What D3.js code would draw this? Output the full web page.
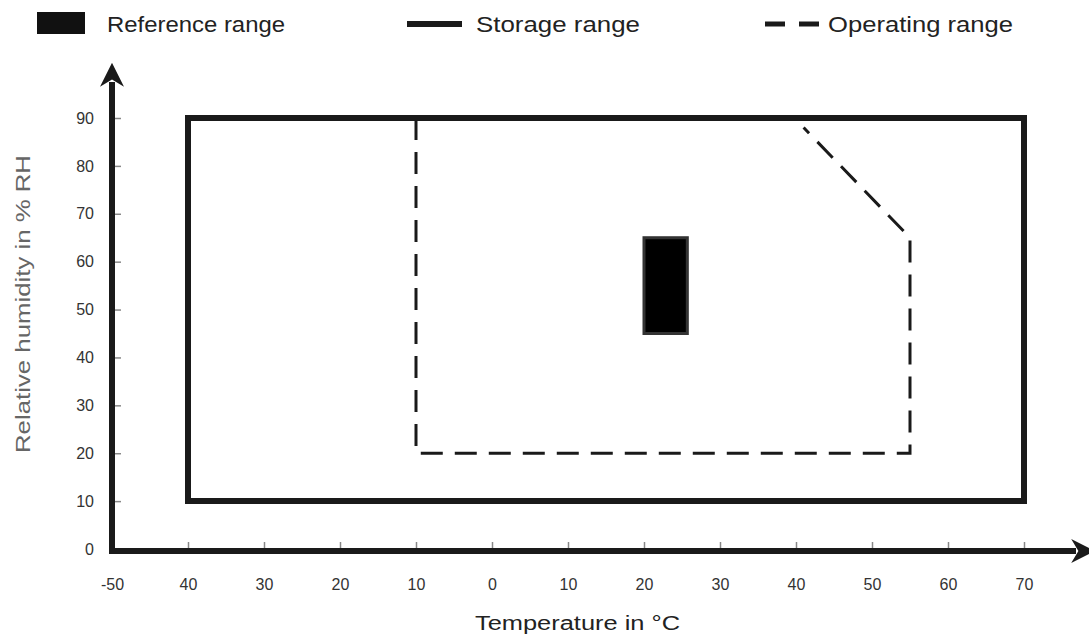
<!DOCTYPE html>
<html>
<head>
<meta charset="utf-8">
<script src="https://cdn.jsdelivr.net/npm/d3@7"></script>
<style>
  body { margin: 0; background: #fff; }
  text { font-family: 'Liberation Sans', Arial, sans-serif; }
</style>
</head>
<body>
<div id="chart"></div>
<script>
// data
const xTickValues = [-50, -40, -30, -20, -10, 0, 10, 20, 30, 40, 50, 60, 70];
const xTickLabels = ['-50', '40', '30', '20', '10', '0', '10', '20', '30', '40', '50', '60', '70'];
const yTickValues = [0, 10, 20, 30, 40, 50, 60, 70, 80, 90];
// storage range: closed box (temperature, humidity)
const storageTemp = [-40, 70, 70, -40];
const storageRH = [10, 10, 90, 90];
// operating range: open dashed outline
const operatingTemp = [-10, -10, 55, 55, 41];
const operatingRH = [90, 20, 20, 65, 88];
// reference range: filled block
const referenceTemp = [20, 25.7];
const referenceRH = [45, 65];

const legendItems = ['Reference range', 'Storage range', 'Operating range'];

const width = 1089;
const height = 644;

const svg = d3.select('#chart')
  .append('svg')
  .attr('width', width)
  .attr('height', height);

const x = d3.scaleLinear().domain([-50, 70]).range([112, 1024]);
const y = d3.scaleLinear().domain([0, 90]).range([549, 118]);

// arrow markers for the axes
svg.append('defs').append('marker')
  .attr('id', 'arrow')
  .attr('viewBox', '0 0 10 10')
  .attr('refX', 2)
  .attr('refY', 5)
  .attr('markerWidth', 4)
  .attr('markerHeight', 4)
  .attr('markerUnits', 'strokeWidth')
  .attr('orient', 'auto')
  .append('path')
  .attr('d', 'M0,0 L10,5 L0,10 L3,5 Z')
  .attr('fill', '#1a1a1a');

// X axis ticks + labels
const xAxis = svg.append('g')
  .attr('transform', `translate(0,${y(0) + 2})`)
  .call(d3.axisBottom(x)
    .tickValues(xTickValues)
    .tickFormat((d, i) => xTickLabels[i])
    .tickSizeInner(-9)
    .tickSizeOuter(0));
xAxis.select('.domain').remove();
xAxis.selectAll('.tick line')
  .attr('stroke', '#888')
  .attr('stroke-width', 1.5)
  .filter((d) => d === -50).remove();
xAxis.selectAll('.tick text')
  .attr('y', 28)
  .attr('font-size', 16)
  .attr('fill', '#333');

// Y axis ticks + labels
const yAxis = svg.append('g')
  .attr('transform', `translate(${x(-50)},0)`)
  .call(d3.axisLeft(y)
    .tickValues(yTickValues)
    .tickSizeInner(-9)
    .tickSizeOuter(0));
yAxis.select('.domain').remove();
yAxis.selectAll('.tick line')
  .attr('stroke', '#888')
  .attr('stroke-width', 1.5)
  .filter((d) => d === 0).remove();
yAxis.selectAll('.tick text')
  .attr('x', -18)
  .attr('font-size', 16)
  .attr('fill', '#333');

// axis lines with arrows
svg.append('line')
  .attr('x1', x(-50) - 3).attr('y1', y(0) + 2)
  .attr('x2', 1076).attr('y2', y(0) + 2)
  .attr('stroke', '#1a1a1a')
  .attr('stroke-width', 6)
  .attr('marker-end', 'url(#arrow)');
svg.append('line')
  .attr('x1', x(-50)).attr('y1', y(0) + 5)
  .attr('x2', x(-50)).attr('y2', 82)
  .attr('stroke', '#1a1a1a')
  .attr('stroke-width', 6)
  .attr('marker-end', 'url(#arrow)');

// axis titles (stretched like the original scan)
svg.append('text')
  .attr('x', 475)
  .attr('y', 630)
  .attr('font-size', 20)
  .attr('fill', '#222')
  .attr('textLength', 205)
  .attr('lengthAdjust', 'spacingAndGlyphs')
  .text('Temperature in °C');
svg.append('text')
  .attr('transform', 'translate(30,453) rotate(-90)')
  .attr('font-size', 20)
  .attr('fill', '#666')
  .attr('textLength', 298)
  .attr('lengthAdjust', 'spacingAndGlyphs')
  .text('Relative humidity in % RH');

// storage range
const storagePts = storageTemp.map((t, i) => [x(t), y(storageRH[i])]);
svg.append('path')
  .attr('d', d3.line()(storagePts) + 'Z')
  .attr('fill', 'none')
  .attr('stroke', '#1a1a1a')
  .attr('stroke-width', 6);

// operating range
const operatingPts = operatingTemp.map((t, i) => [x(t), y(operatingRH[i])]);
svg.append('path')
  .attr('d', d3.line()(operatingPts))
  .attr('fill', 'none')
  .attr('stroke', '#1a1a1a')
  .attr('stroke-width', 3)
  .attr('stroke-dasharray', '22,12');

// reference range
svg.append('rect')
  .attr('x', x(referenceTemp[0]))
  .attr('y', y(referenceRH[1]))
  .attr('width', x(referenceTemp[1]) - x(referenceTemp[0]))
  .attr('height', y(referenceRH[0]) - y(referenceRH[1]))
  .attr('fill', '#000')
  .attr('stroke', '#333')
  .attr('stroke-width', 3);

// legend
const legend = svg.append('g');
legend.append('rect')
  .attr('x', 37).attr('y', 12)
  .attr('width', 48).attr('height', 22)
  .attr('fill', '#111');
legend.append('line')
  .attr('x1', 407).attr('x2', 462)
  .attr('y1', 24).attr('y2', 24)
  .attr('stroke', '#1a1a1a')
  .attr('stroke-width', 6);
legend.append('line')
  .attr('x1', 765).attr('x2', 819)
  .attr('y1', 24).attr('y2', 24)
  .attr('stroke', '#1a1a1a')
  .attr('stroke-width', 5)
  .attr('stroke-dasharray', '20,14');
const legendX = [107, 476, 828];
const legendW = [178, 164, 185];
legend.selectAll('text.lg')
  .data(legendItems)
  .enter()
  .append('text')
  .attr('class', 'lg')
  .attr('x', (d, i) => legendX[i])
  .attr('y', 32)
  .attr('font-size', 22)
  .attr('fill', '#222')
  .attr('textLength', (d, i) => legendW[i])
  .attr('lengthAdjust', 'spacingAndGlyphs')
  .text((d) => d);
</script>
</body>
</html>
